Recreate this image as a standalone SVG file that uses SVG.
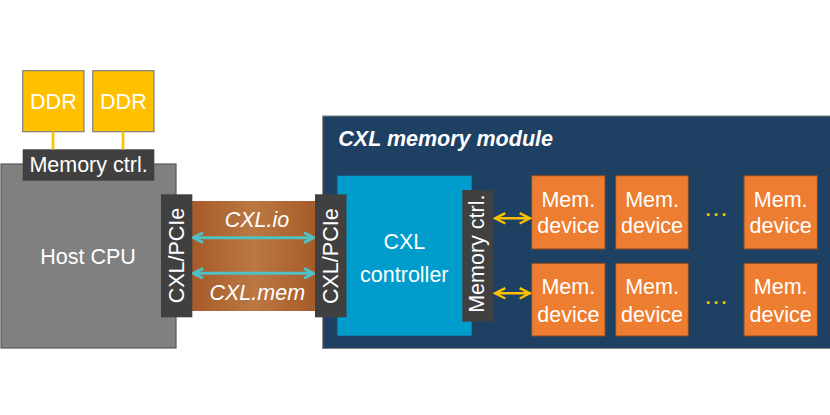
<svg xmlns="http://www.w3.org/2000/svg" width="830" height="415" viewBox="0 0 830 415">
  <style>
    .t { font-family: "Liberation Sans", Arial, sans-serif; fill: #ffffff; }
    .dark { fill: #404040; }
    .ddr { fill: #ffc000; stroke: #7f7f7f; stroke-width: 1.2; }
    .dev { fill: #ed7d31; stroke: #8c4a1f; stroke-width: 1; }
    .cyan { stroke: #4fc1c4; stroke-width: 3; fill: none; }
    .yel { stroke: #ffc000; stroke-width: 2.5; fill: none; }
  </style>
  <defs>
    <linearGradient id="brown" x1="0" y1="0" x2="1" y2="0">
      <stop offset="0" stop-color="#a55a28"/>
      <stop offset="0.5" stop-color="#bb7842"/>
      <stop offset="1" stop-color="#a55a28"/>
    </linearGradient>
    <marker id="ac" viewBox="0 0 12 12" refX="10.5" refY="6" markerWidth="12" markerHeight="12" markerUnits="userSpaceOnUse" orient="auto-start-reverse">
      <path d="M1,1 L10.5,6 L1,11" fill="none" stroke="#4fc1c4" stroke-width="3"/>
    </marker>
    <marker id="ay" viewBox="0 0 12 12" refX="10.5" refY="6" markerWidth="13" markerHeight="13" markerUnits="userSpaceOnUse" orient="auto-start-reverse">
      <path d="M1,1.2 L10.5,6 L1,10.8" fill="none" stroke="#ffc000" stroke-width="2.2"/>
    </marker>
  </defs>

  <!-- link band -->
  <rect x="190" y="201" width="128" height="110" fill="url(#brown)"/>

  <g id="host-cpu">
    <rect x="1" y="164" width="175" height="184" fill="#808080" stroke="#595959" stroke-width="1.2"/>
    <text class="t" x="88" y="263.5" font-size="21.5" text-anchor="middle">Host CPU</text>
  </g>

  <g id="ddr1">
    <rect class="ddr" x="22.7" y="70.7" width="61.3" height="61"/>
    <text class="t" x="53.4" y="109.3" font-size="21.5" text-anchor="middle">DDR</text>
  </g>
  <g id="ddr2">
    <rect class="ddr" x="92.7" y="70.7" width="61.3" height="61"/>
    <text class="t" x="123.4" y="109.3" font-size="21.5" text-anchor="middle">DDR</text>
  </g>

  <g id="host-memctrl">
    <rect class="dark" x="22.7" y="149.3" width="131.6" height="31.4"/>
    <text class="t" x="88.5" y="172.3" font-size="21.5" text-anchor="middle">Memory ctrl.</text>
  </g>

  <g id="host-pcie">
    <rect class="dark" x="161" y="194.3" width="31.3" height="123"/>
    <text class="t" font-size="21.5" text-anchor="middle" transform="translate(184.3,255.5) rotate(-90)">CXL/PCIe</text>
  </g>

  <g id="cxl-module">
    <rect x="322.7" y="116" width="508" height="232.5" fill="#1e4063" stroke="#7f7f7f" stroke-width="1"/>
    <text class="t" x="338.3" y="145.5" font-size="21.5" font-weight="bold" font-style="italic">CXL memory module</text>
  </g>

  <g id="cxl-controller">
    <rect x="337.3" y="175.7" width="134.4" height="160" fill="#009ccc"/>
    <text class="t" x="404.3" y="249.3" font-size="21.5" text-anchor="middle">CXL</text>
    <text class="t" x="404.3" y="281.7" font-size="21.5" text-anchor="middle">controller</text>
  </g>

  <g id="module-pcie">
    <rect class="dark" x="315" y="194.3" width="31.5" height="123"/>
    <text class="t" font-size="21.5" text-anchor="middle" transform="translate(337.6,256.2) rotate(-90)">CXL/PCIe</text>
  </g>

  <g id="module-memctrl">
    <rect class="dark" x="462.3" y="190" width="31" height="131.7"/>
    <text class="t" font-size="21.5" text-anchor="middle" transform="translate(483.5,253.7) rotate(-90)">Memory ctrl.</text>
  </g>

  <g id="mem-r1c1">
    <rect class="dev" x="531.7" y="175.7" width="73.3" height="73.3"/>
    <text class="t" x="568.3" y="206.7" font-size="21.5" text-anchor="middle">Mem.</text>
    <text class="t" x="568.3" y="233.3" font-size="21.5" text-anchor="middle">device</text>
  </g>
  <g id="mem-r1c2">
    <rect class="dev" x="615.7" y="175.7" width="72.6" height="73.3"/>
    <text class="t" x="652" y="206.7" font-size="21.5" text-anchor="middle">Mem.</text>
    <text class="t" x="652" y="233.3" font-size="21.5" text-anchor="middle">device</text>
  </g>
  <g id="mem-r1c3">
    <rect class="dev" x="744" y="175.7" width="73.3" height="73.3"/>
    <text class="t" x="780.7" y="206.7" font-size="21.5" text-anchor="middle">Mem.</text>
    <text class="t" x="780.7" y="233.3" font-size="21.5" text-anchor="middle">device</text>
  </g>
  <g id="mem-r2c1">
    <rect class="dev" x="531.7" y="263.3" width="73.3" height="72.7"/>
    <text class="t" x="568.3" y="294.3" font-size="21.5" text-anchor="middle">Mem.</text>
    <text class="t" x="568.3" y="321.7" font-size="21.5" text-anchor="middle">device</text>
  </g>
  <g id="mem-r2c2">
    <rect class="dev" x="615.7" y="263.3" width="72.6" height="72.7"/>
    <text class="t" x="652" y="294.3" font-size="21.5" text-anchor="middle">Mem.</text>
    <text class="t" x="652" y="321.7" font-size="21.5" text-anchor="middle">device</text>
  </g>
  <g id="mem-r2c3">
    <rect class="dev" x="744" y="263.3" width="73.3" height="72.7"/>
    <text class="t" x="780.7" y="294.3" font-size="21.5" text-anchor="middle">Mem.</text>
    <text class="t" x="780.7" y="321.7" font-size="21.5" text-anchor="middle">device</text>
  </g>

  <g id="ellipses" font-family="Liberation Sans, Arial, sans-serif" fill="#ffc000" font-size="25" text-anchor="middle">
    <text x="716" y="216">…</text>
    <text x="716" y="304">…</text>
  </g>

  <g id="connectors">
    <line x1="53" y1="131.7" x2="53" y2="149.3" stroke="#ffc000" stroke-width="2.7"/>
    <line x1="123" y1="131.7" x2="123" y2="149.3" stroke="#ffc000" stroke-width="2.7"/>
    <line class="cyan" x1="193.5" y1="237.7" x2="313.5" y2="237.7" marker-start="url(#ac)" marker-end="url(#ac)"/>
    <line class="cyan" x1="193.5" y1="273.3" x2="313.5" y2="273.3" marker-start="url(#ac)" marker-end="url(#ac)"/>
    <line class="yel" x1="495" y1="218.3" x2="530" y2="218.3" marker-start="url(#ay)" marker-end="url(#ay)"/>
    <line class="yel" x1="495" y1="293.3" x2="530" y2="293.3" marker-start="url(#ay)" marker-end="url(#ay)"/>
  </g>

  <g id="labels">
    <text class="t" x="257" y="226.7" font-size="21.5" font-style="italic" text-anchor="middle">CXL.io</text>
    <text class="t" x="257.3" y="299.5" font-size="21.5" font-style="italic" text-anchor="middle">CXL.mem</text>
  </g>
</svg>
